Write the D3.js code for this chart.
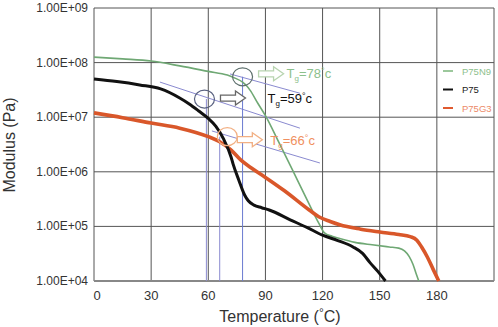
<!DOCTYPE html>
<html lang="en">
<head>
  <meta charset="UTF-8">
  <title>Modulus vs Temperature</title>
  <script src="https://d3js.org/d3.v7.min.js"></script>
  <style>
    body {
      margin: 0;
      background-color: #fff;
      font-family: "Liberation Sans", Arial, sans-serif;
    }
    svg {
      display: block;
    }
    .tick-label {
      font-size: 12px;
      fill: #333;
    }
    .axis-title {
      font-size: 16px;
      fill: #333;
    }
    .tg-label {
      font-size: 13px;
    }
    .legend-text {
      font-size: 9.5px;
    }
  </style>
</head>
<body>
  <svg id="chart"></svg>
  <script>
    // Temperature (°C) / modulus (Pa)
    const p75n9Temp = [0, 15, 30, 45, 60, 70, 74, 78, 80, 82, 86, 90, 97, 104, 112, 118, 121, 125, 129, 137, 146, 155, 160, 163, 165.5, 167.5, 169, 170.5];
    const p75n9Mod = [1.26e8, 1.17e8, 1.07e8, 8.7e7, 6.9e7, 5.9e7, 5.2e7, 4.4e7, 3.8e7, 3.1e7, 1.8e7, 1.07e7, 3.5e6, 1.12e6, 3.0e5, 1.15e5, 7.6e4, 6.6e4, 6.0e4, 5.1e4, 4.6e4, 4.2e4, 4.0e4, 3.55e4, 2.8e4, 2.0e4, 1.4e4, 1.0e4];

    const p75Temp = [0, 12, 24, 35, 45, 50, 55, 60, 64, 68, 72, 73, 76, 79, 81, 84, 88, 92, 103, 112, 120, 128, 136, 141, 145, 149, 153];
    const p75Mod = [5.0e7, 4.5e7, 3.9e7, 3.3e7, 2.25e7, 1.75e7, 1.3e7, 9.5e6, 6.8e6, 4.0e6, 1.85e6, 1.4e6, 7.1e5, 3.8e5, 2.95e5, 2.45e5, 2.2e5, 2.0e5, 1.32e5, 9.5e4, 6.9e4, 5.5e4, 4.2e4, 3.2e4, 2.15e4, 1.5e4, 1.0e4];

    const p75g3Temp = [0, 15, 30, 45, 60, 66, 72, 77, 83, 90, 100, 113, 118, 124, 129, 140, 150, 160, 166, 169.5, 172, 175, 178, 181];
    const p75g3Mod = [1.2e7, 9.8e6, 7.8e6, 6.3e6, 4.4e6, 3.55e6, 2.5e6, 1.65e6, 1.15e6, 7.9e5, 4.5e5, 2.0e5, 1.5e5, 1.23e5, 1.07e5, 8.9e4, 7.9e4, 7.1e4, 6.5e4, 5.6e4, 4.2e4, 2.75e4, 1.65e4, 1.0e4];

    const seriesNames = ["P75N9", "P75", "P75G3"];

    // Glass transition annotations
    const tgValues = [78, 59, 66];
    const tgCircleTemp = [78, 58, 70];
    const tgCircleMod = [5.5e7, 2.15e7, 4.4e6];
    const tangentTemp = [[71.4, 108.1], [34.6, 108.1], [61.9, 118.6]];
    const tangentMod = [[6.2e7, 2.75e7], [4.4e7, 6.3e6], [5.6e6, 1.45e6]];

    const xTicks = [0, 30, 60, 90, 120, 150, 180];
    const xGrid = [0, 30, 60, 90, 120, 150, 180, 210];
    const yTicks = [1e4, 1e5, 1e6, 1e7, 1e8, 1e9];
    const yTickLabels = ["1.00E+04", "1.00E+05", "1.00E+06", "1.00E+07", "1.00E+08", "1.00E+09"];

    const width = 498, height = 327;
    const svg = d3.select("#chart").attr("width", width).attr("height", height);

    const x = d3.scaleLinear().domain([0, 210]).range([94, 494]);
    const y = d3.scaleLog().domain([1e4, 1e9]).range([281, 8]);

    // Gridlines
    svg.append("g").selectAll("line")
      .data(xGrid)
      .join("line")
      .attr("x1", d => x(d)).attr("x2", d => x(d))
      .attr("y1", y(1e9)).attr("y2", y(1e4))
      .attr("stroke", "#555").attr("stroke-width", 1);

    svg.append("g").selectAll("line")
      .data(yTicks)
      .join("line")
      .attr("x1", x(0)).attr("x2", x(210))
      .attr("y1", d => y(d)).attr("y2", d => y(d))
      .attr("stroke", d => d === 1e4 ? "#888" : "#555")
      .attr("stroke-width", d => d === 1e4 ? 2 : 1);

    // Tick labels
    svg.append("g").selectAll("text")
      .data(yTicks)
      .join("text")
      .attr("class", "tick-label")
      .attr("x", 88)
      .attr("y", d => y(d) + 4)
      .attr("text-anchor", "end")
      .text((d, i) => yTickLabels[i]);

    svg.append("g").selectAll("text")
      .data(xTicks)
      .join("text")
      .attr("class", "tick-label")
      .attr("x", d => x(d) + (d === 0 ? 3 : 0))
      .attr("y", 300)
      .attr("text-anchor", "middle")
      .style("font-size", "13px")
      .text(d => d);

    // Axis titles
    svg.append("text")
      .attr("class", "axis-title")
      .attr("transform", "translate(15,145) rotate(-90)")
      .attr("text-anchor", "middle")
      .text("Modulus (Pa)");

    const xTitle = svg.append("text")
      .attr("class", "axis-title")
      .attr("x", 280)
      .attr("y", 322)
      .attr("text-anchor", "middle");
    xTitle.append("tspan").text("Temperature (");
    xTitle.append("tspan").attr("font-size", "12px").attr("dy", -5).text("°");
    xTitle.append("tspan").attr("dy", 5).text("C)");

    // Annotation lines (tangents and verticals)
    const annColor = "#8a8ad0";
    tangentTemp.forEach((t, i) => {
      svg.append("line")
        .attr("x1", x(t[0])).attr("y1", y(tangentMod[i][0]))
        .attr("x2", x(t[1])).attr("y2", y(tangentMod[i][1]))
        .attr("stroke", annColor).attr("stroke-width", 1);
    });

    tgValues.forEach((tg, i) => {
      svg.append("line")
        .attr("x1", x(tg)).attr("x2", x(tg))
        .attr("y1", y(tgCircleMod[i])).attr("y2", y(1e4))
        .attr("stroke", i === 0 ? "#6a7ad0" : annColor).attr("stroke-width", 1);
    });

    // Curves
    const line = d3.line()
      .x(d => x(d[0]))
      .y(d => y(d[1]))
      .curve(d3.curveMonotoneX);

    const series = [
      { name: seriesNames[0], temp: p75n9Temp, mod: p75n9Mod, color: "#6fa874", w: 1.6 },
      { name: seriesNames[2], temp: p75g3Temp, mod: p75g3Mod, color: "#d9572a", w: 3.6 },
      { name: seriesNames[1], temp: p75Temp, mod: p75Mod, color: "#111", w: 3 }
    ];

    series.forEach(s => {
      svg.append("path")
        .datum(s.temp.map((t, i) => [t, s.mod[i]]))
        .attr("fill", "none")
        .attr("stroke", s.color)
        .attr("stroke-width", s.w)
        .attr("stroke-linejoin", "round")
        .attr("d", line);
    });

    // Circles, arrows, labels
    const circleColors = ["#5d6f6c", "#5a6280", "#f2b084"];
    const arrowColors = ["#b8d4b0", "#666", "#f2b084"];
    const labelColors = ["#8cc08c", "#111", "#f09060"];
    const arrowOffset = [[16, -3], [16, -1], [10, 3]];
    const labelOffset = [[44, 1], [63, 4], [43, 8]];

    function arrowPath(x0, y0) {
      // hollow block arrow pointing right
      return `M${x0},${y0 - 3} L${x0 + 15},${y0 - 3} L${x0 + 15},${y0 - 7} L${x0 + 25},${y0} ` +
        `L${x0 + 15},${y0 + 7} L${x0 + 15},${y0 + 3} L${x0},${y0 + 3} Z`;
    }

    tgValues.forEach((tg, i) => {
      const cx = x(tgCircleTemp[i]);
      const cy = y(tgCircleMod[i]);
      svg.append("ellipse")
        .attr("cx", cx).attr("cy", cy)
        .attr("rx", 10).attr("ry", 9)
        .attr("fill", "none")
        .attr("stroke", circleColors[i]).attr("stroke-width", 1.2);

      svg.append("path")
        .attr("d", arrowPath(cx + arrowOffset[i][0], cy + arrowOffset[i][1]))
        .attr("fill", "#fff")
        .attr("stroke", arrowColors[i])
        .attr("stroke-width", 1.3);

      const lbl = svg.append("text")
        .attr("class", "tg-label")
        .attr("x", cx + labelOffset[i][0])
        .attr("y", cy + labelOffset[i][1])
        .attr("fill", labelColors[i]);
      lbl.append("tspan").text("T");
      lbl.append("tspan").attr("font-size", "8px").attr("dy", 3).text("g");
      lbl.append("tspan").attr("dy", -3).text("=" + tg);
      lbl.append("tspan").attr("font-size", "9px").attr("dy", -4).text("°");
      lbl.append("tspan").attr("dy", 4).text("c");
    });

    // Legend
    const legendColors = ["#9cc89c", "#111", "#e05a30"];
    const legendText = ["#8dc08d", "#222", "#ec8a68"];
    const legend = svg.append("g").attr("transform", "translate(443,71)");
    seriesNames.forEach((name, i) => {
      legend.append("line")
        .attr("x1", 0).attr("x2", 10)
        .attr("y1", i * 18.5).attr("y2", i * 18.5)
        .attr("stroke", legendColors[i]).attr("stroke-width", 2);
      legend.append("text")
        .attr("class", "legend-text")
        .attr("x", 19)
        .attr("y", i * 18.5 + 3.5)
        .attr("fill", legendText[i])
        .text(name);
    });
  </script>
</body>
</html>
